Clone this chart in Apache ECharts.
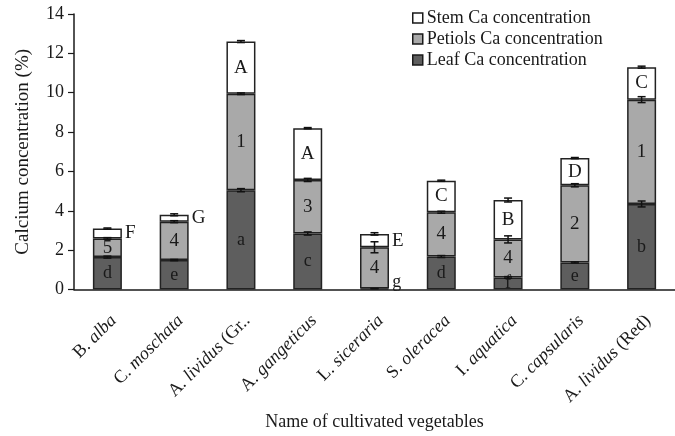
<!DOCTYPE html>
<html>
<head>
<meta charset="utf-8">
<script src="https://cdn.jsdelivr.net/npm/echarts@6/dist/echarts.min.js"></script>
<style>
  html, body { margin: 0; padding: 0; background: #fff; }
  #chart { width: 675px; height: 436px; }
</style>
</head>
<body>
<div id="chart"></div>
<script>
// Genus initial (upright) and species epithet (italic), plus an optional upright suffix
const genus = ['B.', 'C.', 'A.', 'A.', 'L.', 'S.', 'I.', 'C.', 'A.'];
const species = ['alba', 'moschata', 'lividus', 'gangeticus', 'siceraria', 'oleracea', 'aquatica', 'capsularis', 'lividus'];
const suffix = ['', '', '(Gr..', '', '', '', '', '', '(Red)'];

// Calcium concentration (%) per plant part
const leafCa = [1.65, 1.5, 5.05, 2.85, 0.05, 1.68, 0.62, 1.38, 4.35];
const petiolCa = [0.95, 1.95, 4.9, 2.72, 2.1, 2.25, 1.93, 3.92, 5.3];
const stemCa = [0.5, 0.35, 2.65, 2.63, 0.68, 1.6, 2.0, 1.38, 1.65];

// Standard errors
const leafErr = [0.05, 0.03, 0.08, 0.08, 0.0, 0.05, 0.04, 0.03, 0.15];
const petiolErr = [0.04, 0.05, 0.04, 0.08, 0.28, 0.05, 0.18, 0.08, 0.15];
const stemErr = [0.03, 0.05, 0.05, 0.03, 0.06, 0.03, 0.1, 0.03, 0.05];

// Significance groupings
const leafLetters = ['d', 'e', 'a', 'c', 'g', 'd', 'f', 'e', 'b'];
const petiolLetters = ['5', '4', '1', '3', '4', '4', '4', '2', '1'];
const stemLetters = ['F', 'G', 'A', 'A', 'E', 'C', 'B', 'D', 'C'];

const yTicks = { min: 0, max: 14, interval: 2 };

const FONT = '"Liberation Serif", "DejaVu Serif", serif';
const INK = '#1a1a1a';

const categories = genus.map((g, i) => i);

// Segments too thin for their letter get it beside the bar instead
function segData(vals, letters, fontSize, minInside) {
  return vals.map((v, i) => {
    const outside = v < minInside;
    return {
      value: v,
      label: {
        show: true,
        formatter: letters[i],
        position: outside ? 'right' : 'inside',
        distance: 3,
        fontSize: fontSize,
        offset: outside && v < 0.2 ? [0, -7] : [0, 0]
      }
    };
  });
}

const leafTop = leafCa.slice();
const petiolTop = leafCa.map((v, i) => v + petiolCa[i]);
const stemTop = petiolTop.map((v, i) => v + stemCa[i]);

const errData = [];
categories.forEach(i => {
  errData.push([i, leafTop[i], leafErr[i]]);
  errData.push([i, petiolTop[i], petiolErr[i]]);
  errData.push([i, stemTop[i], stemErr[i]]);
});

const chart = echarts.init(document.getElementById('chart'), null, { renderer: 'canvas' });

const barBase = {
  type: 'bar',
  stack: 'ca',
  barWidth: 29,
  label: { color: '#1a1a1a', fontFamily: FONT }
};

chart.setOption({
  animation: false,
  backgroundColor: '#fff',
  textStyle: { fontFamily: FONT, color: INK },
  // the category axis runs on past the right edge of the figure
  grid: { left: 74, right: -6, top: 14, bottom: 142 },
  legend: {
    orient: 'vertical',
    left: 407,
    top: 4,
    icon: 'rect',
    itemWidth: 10,
    itemHeight: 10,
    itemGap: 3,
    data: ['Stem Ca concentration', 'Petiols Ca concentration', 'Leaf Ca concentration'],
    textStyle: { fontFamily: FONT, fontSize: 18, color: INK, padding: [0, 0, 0, -1] },
    itemStyle: { borderColor: INK, borderWidth: 1.5 }
  },
  xAxis: {
    type: 'category',
    data: categories,
    name: 'Name of cultivated vegetables',
    nameLocation: 'middle',
    nameGap: 116,
    nameTextStyle: { fontFamily: FONT, fontSize: 18, color: INK },
    axisLine: { lineStyle: { color: INK, width: 1.5 } },
    axisTick: { length: 6, lineStyle: { color: INK, width: 1.2 } },
    axisLabel: {
      interval: 0,
      rotate: 45,
      margin: 22,
      verticalAlign: 'top',
      fontFamily: FONT,
      fontSize: 18,
      color: INK,
      formatter: i => {
        const s = '{n|' + genus[i] + ' }{i|' + species[i] + '}';
        return suffix[i] ? s + '{n| ' + suffix[i] + '}' : s;
      },
      rich: {
        n: { fontFamily: FONT, fontSize: 18, color: INK },
        i: { fontFamily: FONT, fontSize: 18, fontStyle: 'italic', color: INK }
      }
    }
  },
  yAxis: {
    type: 'value',
    min: yTicks.min,
    max: yTicks.max,
    interval: yTicks.interval,
    name: 'Calcium concentration (%)',
    nameLocation: 'middle',
    nameRotate: 90,
    nameGap: 41,
    nameTextStyle: { fontFamily: FONT, fontSize: 19, color: INK },
    splitLine: { show: false },
    axisLine: { show: true, lineStyle: { color: INK, width: 1.5 } },
    axisTick: { show: true, length: 6, lineStyle: { color: INK, width: 1.2 } },
    axisLabel: { fontFamily: FONT, fontSize: 18, color: INK, margin: 10 }
  },
  series: [
    Object.assign({}, barBase, {
      name: 'Leaf Ca concentration',
      itemStyle: { color: '#5e5e5e', borderColor: '#222', borderWidth: 1.5 },
      data: segData(leafCa, leafLetters, 18, 0.2)
    }),
    Object.assign({}, barBase, {
      name: 'Petiols Ca concentration',
      itemStyle: { color: '#a9a9a9', borderColor: '#222', borderWidth: 1.5 },
      data: segData(petiolCa, petiolLetters, 19, 0.2)
    }),
    Object.assign({}, barBase, {
      name: 'Stem Ca concentration',
      itemStyle: { color: '#ffffff', borderColor: '#222', borderWidth: 1.5 },
      data: segData(stemCa, stemLetters, 19, 0.8)
    }),
    {
      type: 'custom',
      name: 'error',
      z: 10,
      silent: true,
      data: errData,
      renderItem: (params, api) => {
        const i = api.value(0);
        const top = api.value(1);
        const e = api.value(2);
        const hi = api.coord([i, top + e]);
        const lo = api.coord([i, top - e]);
        const x = hi[0];
        const cap = 4;
        const style = { stroke: '#111', lineWidth: 1.5 };
        return {
          type: 'group',
          children: [
            { type: 'line', shape: { x1: x, y1: hi[1], x2: x, y2: lo[1] }, style },
            { type: 'line', shape: { x1: x - cap, y1: hi[1], x2: x + cap, y2: hi[1] }, style },
            { type: 'line', shape: { x1: x - cap, y1: lo[1], x2: x + cap, y2: lo[1] }, style }
          ]
        };
      }
    }
  ]
});
</script>
</body>
</html>
